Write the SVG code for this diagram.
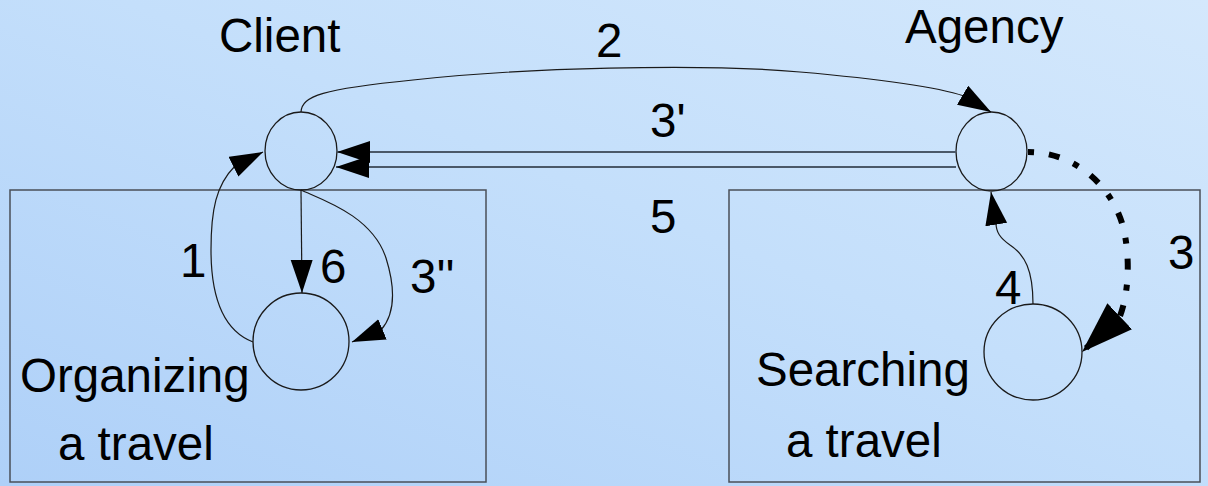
<svg xmlns="http://www.w3.org/2000/svg" width="1208" height="486" viewBox="0 0 1208 486">
<defs>
<linearGradient id="bg" x1="0" y1="1" x2="1" y2="0">
<stop offset="0" stop-color="#aed0f8"/>
<stop offset="0.55" stop-color="#c4dffb"/>
<stop offset="1" stop-color="#d4e8fc"/>
</linearGradient>
<marker id="ah" markerUnits="userSpaceOnUse" markerWidth="34" markerHeight="24" refX="33" refY="11" orient="auto" viewBox="0 0 34 24">
<path d="M0,0 L33,11 L0,22 z" fill="#000"/>
</marker>
<marker id="ahb" markerUnits="userSpaceOnUse" markerWidth="54" markerHeight="38" refX="52" refY="18" orient="auto" viewBox="0 0 54 38">
<path d="M0,0 L52,18 L0,36 z" fill="#000"/>
</marker>
<style>
.box{fill:none;stroke:#4a4f58;stroke-width:1.5}
.st{fill:none;stroke:#1a1a1a;stroke-width:1.3}
.ln{fill:none;stroke:#1a1a1a;stroke-width:1.2}
.hl{fill:none;stroke:#4a5868;stroke-width:1.8}
.dot{fill:none;stroke:#000;stroke-width:6;stroke-dasharray:6 15 11 15}
text{font-family:"Liberation Sans",Arial,sans-serif;font-size:47.5px;fill:#000}
</style>
</defs>
<rect x="0" y="0" width="1208" height="486" fill="url(#bg)"/>
<g id="box-organizing">
<rect class="box" x="10" y="190" width="476" height="292"/>
<text x="20" y="392">Organizing</text>
<text x="58" y="460">a travel</text>
</g>
<g id="box-searching">
<rect class="box" x="729" y="190" width="471" height="292"/>
<text x="756" y="386">Searching</text>
<text x="786" y="457">a travel</text>
</g>
<g id="client">
<ellipse class="st" cx="301" cy="151" rx="36" ry="39"/>
<text x="219" y="52">Client</text>
</g>
<g id="agency">
<ellipse class="st" cx="991.5" cy="151.5" rx="35.5" ry="39.5"/>
<text x="905" y="43">Agency</text>
</g>
<g id="organizing">
<ellipse class="st" cx="301" cy="341.5" rx="48" ry="48.5"/>
</g>
<g id="searching">
<ellipse class="st" cx="1033" cy="352" rx="49" ry="48"/>
</g>
<g id="connectors">
<path class="ln" d="M301,112 C302,96 322,89 413,80 C520,68 700,63 800,72 C880,79 940,88 964,96 L991,112" marker-end="url(#ah)"/>
<path class="hl" d="M956,152 L337,152" marker-end="url(#ah)"/>
<path class="hl" d="M956,167 L336,167" marker-end="url(#ah)"/>
<path class="ln" d="M253,342 C222,330 211,295 211,250 C211,210 216,185 235,166 L263,152" marker-end="url(#ah)"/>
<path class="ln" d="M301,190 L302,293" marker-end="url(#ah)"/>
<path class="ln" d="M301,190 C320,199 372,215 386,258 C396,290 394,315 381,330 L352,342" marker-end="url(#ah)"/>
<path class="ln" d="M1033,304 C1033,270 1025,255 1010,245 C1000,238 996,232 996,223 L991,192" marker-end="url(#ah)"/>
<path class="dot" d="M1028,152 C1070,152 1108,180 1122,223 C1130,250 1130,290 1120,316 L1082,352" marker-end="url(#ahb)"/>
<text x="596" y="57">2</text>
<text x="650" y="137">3'</text>
<text x="650" y="233">5</text>
<text x="180" y="277">1</text>
<text x="320" y="283">6</text>
<text x="410" y="293">3''</text>
<text x="1168" y="269">3</text>
<text x="995" y="304">4</text>
</g>
</svg>
